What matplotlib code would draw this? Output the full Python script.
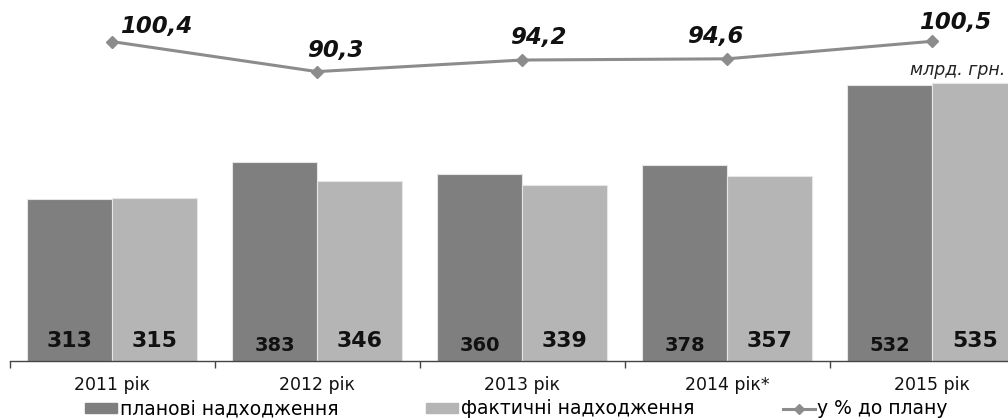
import numpy as np
import matplotlib.pyplot as plt
from matplotlib.patches import Patch
from matplotlib.lines import Line2D

plt.rcParams['font.family'] = ['DejaVu Sans']

years = ['2011 рік', '2012 рік', '2013 рік', '2014 рік*', '2015 рік']
planned = [313, 383, 360, 378, 532]
actual = [315, 346, 339, 357, 535]
percent = [100.4, 90.3, 94.2, 94.6, 100.5]
percent_labels = ['100,4', '90,3', '94,2', '94,6', '100,5']

# label sizes differ in the source picture
planned_fs = [15.8, 14, 14, 14, 14]
actual_fs = [15.8, 15.8, 15.8, 15.8, 15.8]
# offsets of the percent labels from their points, in pixels
lab_dx = [44, 18, 16, -12, 23]
lab_dy = [15, 21, 23, 22, 19]

dark = '#7f7f7f'
light = '#b5b5b5'
linec = '#8c8c8c'

fig = plt.figure(figsize=(10.08, 4.2), dpi=100)
ax = fig.add_axes([9.5/1008, 59/420, 998.5/1008, 361/420])

x = np.arange(len(years))
w = 0.415
ax.bar(x - w/2, planned, w, color=dark, edgecolor='#e6e6e6', linewidth=0.8)
ax.bar(x + w/2, actual, w, color=light, edgecolor='#e6e6e6', linewidth=0.8)

for i in range(len(years)):
    yp = 38.5 if planned_fs[i] > 15 else 29
    ax.text(x[i] - w/2, yp, str(planned[i]), ha='center', va='center',
            fontsize=planned_fs[i], fontweight='bold', color='#111111')
    ax.text(x[i] + w/2, 38.5, str(actual[i]), ha='center', va='center',
            fontsize=actual_fs[i], fontweight='bold', color='#111111')

ax.set_ylim(0, 695.6)
ax.set_yticks([])
for s in ['top', 'right', 'left']:
    ax.spines[s].set_visible(False)
ax.spines['bottom'].set_color('#444444')
ax.spines['bottom'].set_linewidth(1.0)

ax2 = ax.twinx()
ax2.set_ylim(-7.1, 114.4)
ax2.set_yticks([])
for s in ax2.spines.values():
    s.set_visible(False)
ax2.plot(x, percent, color=linec, lw=2.2, marker='D', markersize=6)
for i in range(len(years)):
    ax2.annotate(percent_labels[i], (x[i], percent[i]),
                 xytext=(lab_dx[i] * 0.72, lab_dy[i] * 0.72),
                 textcoords='offset points', ha='center', va='center',
                 fontsize=16.5, fontweight='bold', fontstyle='italic',
                 color='#111111')

ax.set_xticks(np.arange(-0.5, 4.6, 1.0))
ax.set_xticklabels([])
ax.tick_params(axis='x', which='major', direction='out', length=5,
               color='#444444', width=1.0)
ax.set_xticks(x, minor=True)
ax.set_xticklabels(years, minor=True, fontsize=12.5, color='#111111')
ax.tick_params(axis='x', which='minor', length=0, pad=11)
# x limits last: twinx plotting and set_xticks both widen the shared axis
ax.set_xlim(-0.5, 4.37)

ax.text((1005 - 9.5) / 998.5, 0.806, 'млрд. грн.',
        transform=ax.transAxes, ha='right', va='center', fontsize=12.5,
        fontstyle='italic', color='#222222')

handles = [Patch(color=dark), Patch(color=light),
           Line2D([], [], color=linec, lw=2.2, marker='D', markersize=5)]
labels = ['планові надходження', 'фактичні надходження', 'у % до плану']
fig.legend(handles, labels, loc='center left', bbox_to_anchor=(85/1008, 11/420),
           ncol=3, frameon=False, fontsize=13.5, handlelength=1.7,
           handleheight=0.5, handletextpad=0.15, columnspacing=4.7,
           borderpad=0, borderaxespad=0)

fig.savefig('out.png', dpi=100)
